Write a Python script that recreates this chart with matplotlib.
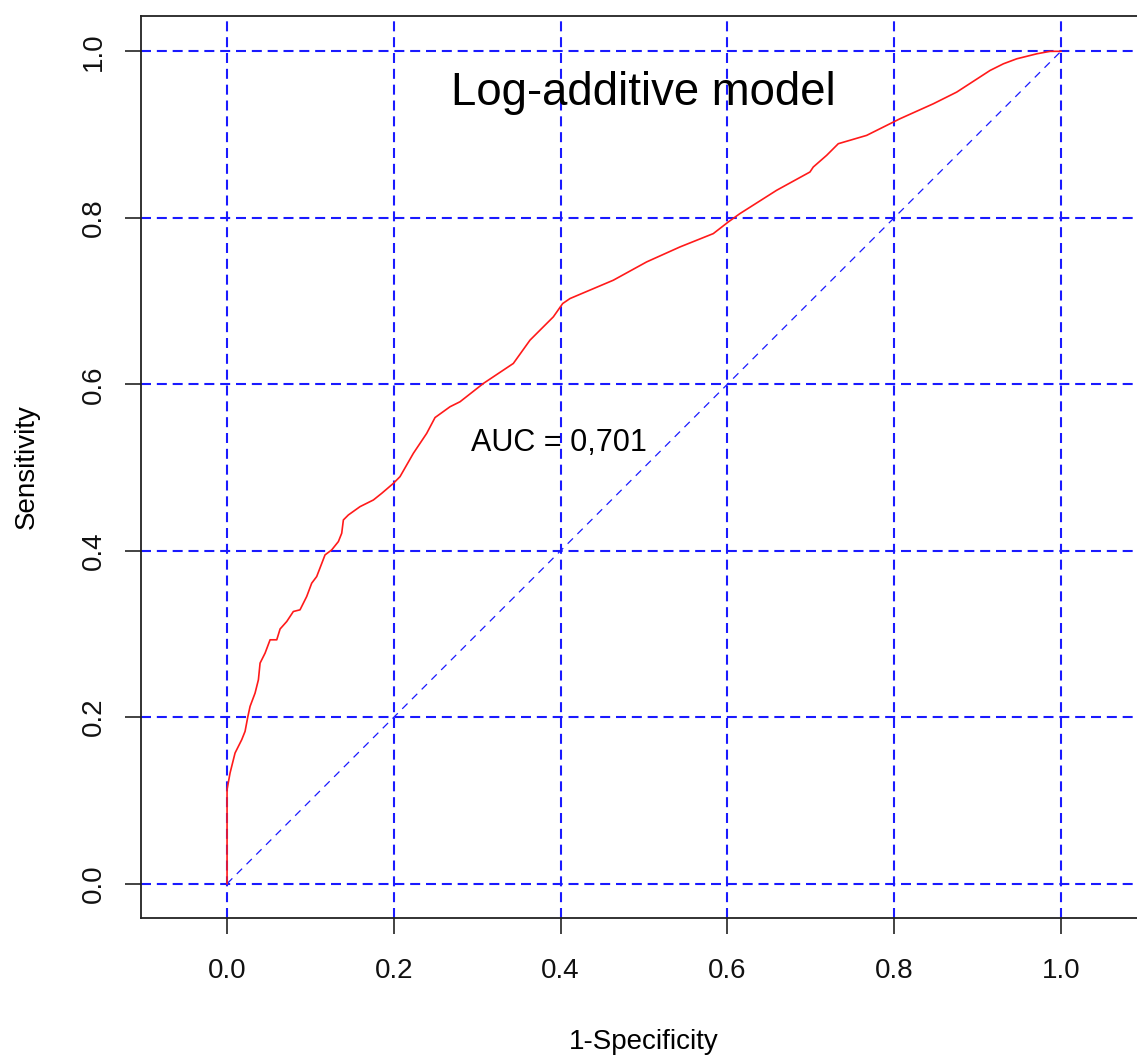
import matplotlib
matplotlib.use("Agg")
import matplotlib.pyplot as plt

plt.rcParams['font.family'] = ['Liberation Sans', 'DejaVu Sans']

# ROC curve points
fpr = [0.0, 0.0, 0.0036, 0.0096, 0.0176, 0.0216, 0.0248, 0.0276, 0.0336, 0.0376,
       0.0396, 0.0456, 0.0516, 0.0596, 0.0636, 0.0716, 0.0795, 0.0875, 0.0955, 0.1015,
       0.1075, 0.1175, 0.1255, 0.1335, 0.1375, 0.1395, 0.1455, 0.1595, 0.1755, 0.1855,
       0.1995, 0.2074, 0.2234, 0.2394, 0.2494, 0.2674, 0.2794, 0.3074, 0.3433, 0.3633,
       0.3913, 0.4025, 0.4113, 0.4632, 0.5032, 0.5432, 0.5831, 0.6011, 0.615, 0.659,
       0.699, 0.703, 0.719, 0.733, 0.767, 0.807, 0.847, 0.875, 0.915, 0.931,
       0.947, 0.971, 0.987, 1.0]
tpr = [0.0, 0.113, 0.133, 0.157, 0.173, 0.183, 0.200, 0.213, 0.229, 0.245,
       0.265, 0.277, 0.293, 0.293, 0.306, 0.315, 0.327, 0.329, 0.345, 0.361,
       0.369, 0.395, 0.401, 0.411, 0.421, 0.437, 0.443, 0.453, 0.461, 0.469,
       0.481, 0.489, 0.517, 0.541, 0.560, 0.573, 0.579, 0.601, 0.625, 0.653,
       0.681, 0.697, 0.703, 0.725, 0.747, 0.765, 0.781, 0.795, 0.805, 0.833,
       0.855, 0.861, 0.875, 0.889, 0.899, 0.919, 0.937, 0.951, 0.977, 0.985,
       0.991, 0.997, 1.0, 1.0]

diag = [0.0, 1.0]
grid_ticks = [0.0, 0.2, 0.4, 0.6, 0.8, 1.0]
tick_labels = ["0.0", "0.2", "0.4", "0.6", "0.8", "1.0"]
title_text = "Log-additive model"
auc_text = "AUC = 0,701"
xlab = "1-Specificity"
ylab = "Sensitivity"

fig = plt.figure(figsize=(11.37, 10.61), dpi=100)
ax = fig.add_axes([0.1243, 0.1348, 0.8842, 0.8501])
ax.set_xlim(-0.1028, 1.1028)
ax.set_ylim(-0.0412, 1.0424)

grid_col = '#1a1aff'
for v in grid_ticks:
    l1 = ax.axvline(v, color=grid_col, lw=1.5, zorder=1)
    l1.set_dashes((4.8, 2.8))
    l2 = ax.axhline(v, color=grid_col, lw=1.5, zorder=1)
    l2.set_dashes((4.8, 2.8))

ld, = ax.plot(diag, diag, color=grid_col, lw=0.9, zorder=2)
ld.set_dashes((6, 5))

ax.plot(fpr, tpr, color='#ff1a1a', lw=1.2, zorder=3)

ax.text(0.4995, 0.9355, title_text, fontsize=32.8, ha='center', va='baseline')
ax.text(0.398, 0.52, auc_text, fontsize=22, ha='center', va='baseline')

ax.set_xticks(grid_ticks)
ax.set_xticklabels(tick_labels)
ax.set_yticks(grid_ticks)
ax.set_yticklabels(tick_labels, rotation=90, va='center')
ax.tick_params(axis='both', length=11.5, width=1.2, color='#222222',
               labelsize=20, labelcolor='#111111')
ax.tick_params(axis='x', pad=17)
ax.tick_params(axis='y', pad=13)

for s in ax.spines.values():
    s.set_linewidth(1.3)
    s.set_color('#222222')

ax.set_xlabel(xlab, fontsize=20, va='center')
ax.xaxis.set_label_coords(0.4995, -0.1375)
ax.set_ylabel(ylab, fontsize=20, va='center')
ax.yaxis.set_label_coords(-0.1137, 0.5)

fig.savefig("out.png", dpi=100)
